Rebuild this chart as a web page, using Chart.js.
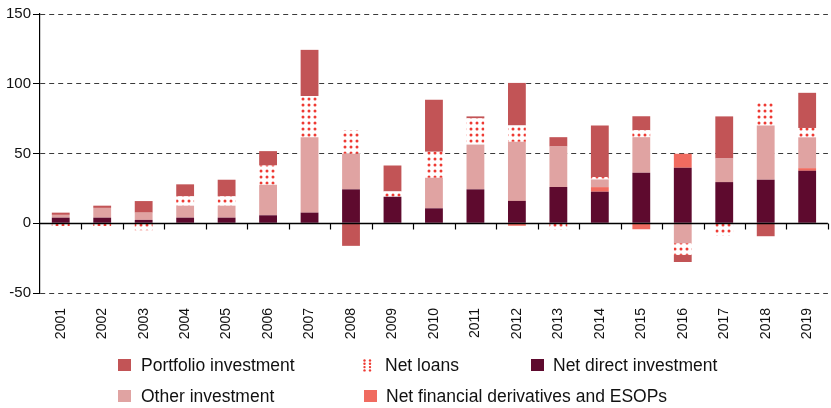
<!DOCTYPE html>
<html>
<head>
<meta charset="utf-8">
<script src="https://cdn.jsdelivr.net/npm/chart.js@4/dist/chart.umd.min.js"></script>
<style>
  html, body { margin: 0; padding: 0; background: #fff; }
  #wrap { position: relative; width: 831px; height: 408px; }
</style>
</head>
<body>
<div id="wrap"><canvas id="chart" width="831" height="408"></canvas></div>
<script>
const years = ['2001','2002','2003','2004','2005','2006','2007','2008','2009','2010',
               '2011','2012','2013','2014','2015','2016','2017','2018','2019'];
const directInv   = [4, 4, 2.4, 4, 4, 5.7, 7.6, 24.3, 19, 10.7, 24.3, 16, 26, 22.6, 36.2, 39.8, 29.5, 31.2, 37.6];
const derivatives = [0, 0, 0, 0, 0, 0, 0, 0, 0, 0, 0, -1.8, 0, 3.3, -4.3, 10, 0, 0, 1.9];
const otherInv    = [2, 7, 5.2, 8.6, 8.6, 21.9, 54.1, 25.5, 0, 21.9, 32.1, 42.4, 29, 5.5, 25.5, -14.3, 16.9, 38.8, 22.1];
const netLoans    = [-2, -2, -5, 6.7, 6.7, 13.8, 29.5, 16.9, 3.8, 18.6, 18.8, 11.7, -4.5, 1.7, 5, -8.3, -8.8, 16.7, 6.7];
const portfolio   = [1.6, 1.6, 8.3, 8.6, 11.9, 10.3, 33.1, -16.2, 18.6, 37.4, 1.4, 30.5, 6.7, 36.9, 10, -5.2, 30.2, -9.3, 25.2];
const yTicks = [-50, 0, 50, 100, 150];

const FONT = '"Liberation Sans", Arial, sans-serif';
const DOT_RED = '#ee3a33';

// white background with red dots for net loans
function makeDotPattern() {
    const c = document.createElement('canvas');
    c.width = 6; c.height = 6;
    const g = c.getContext('2d');
    g.fillStyle = '#fff';
    g.fillRect(0, 0, 6, 6);
    g.fillStyle = DOT_RED;
    g.beginPath();
    g.arc(3, 3, 1.5, 0, Math.PI * 2);
    g.fill();
    return g.createPattern(c, 'repeat');
}
const dots = makeDotPattern();

const datasets = [
    { label: 'Net direct investment', data: directInv, backgroundColor: '#5e0a2e' },
    { label: 'Net financial derivatives and ESOPs', data: derivatives, backgroundColor: '#f06b60' },
    { label: 'Other investment', data: otherInv, backgroundColor: '#e0a3a2' },
    { label: 'Net loans', data: netLoans, backgroundColor: dots, isDots: true },
    { label: 'Portfolio investment', data: portfolio, backgroundColor: '#c25456' }
];

// zero line with category tick marks
const zeroAxis = {
    id: 'zeroAxis',
    afterDatasetsDraw(chart) {
        const ctx = chart.ctx;
        const xs = chart.scales.x, ys = chart.scales.y;
        const y0 = Math.round(ys.getPixelForValue(0)) + 0.5;
        ctx.save();
        ctx.strokeStyle = '#000';
        ctx.lineWidth = 1.5;
        ctx.beginPath();
        ctx.moveTo(chart.chartArea.left, y0);
        ctx.lineTo(chart.chartArea.right, y0);
        ctx.stroke();
        ctx.lineWidth = 1.2;
        const n = years.length;
        const step = xs.getPixelForValue(1) - xs.getPixelForValue(0);
        for (let i = 0; i < n; i++) {
            const x = Math.round(xs.getPixelForValue(i) + step / 2) + 0.5;
            ctx.beginPath();
            ctx.moveTo(x, y0);
            ctx.lineTo(x, y0 + 6);
            ctx.stroke();
        }
        ctx.restore();
    }
};

// two-row legend under the axis labels
const rowLegend = {
    id: 'rowLegend',
    afterDraw(chart) {
        const ctx = chart.ctx;
        const byLabel = {};
        chart.data.datasets.forEach(d => byLabel[d.label] = d);
        const items = [
            { label: 'Portfolio investment', box: 118, text: 141, y: 359 },
            { label: 'Net loans', box: 363, text: 385, y: 359 },
            { label: 'Net direct investment', box: 531, text: 553, y: 359 },
            { label: 'Other investment', box: 118, text: 141, y: 390 },
            { label: 'Net financial derivatives and ESOPs', box: 364, text: 386, y: 390 }
        ];
        ctx.save();
        ctx.font = '17.5px ' + FONT;
        ctx.textBaseline = 'alphabetic';
        items.forEach(it => {
            const ds = byLabel[it.label];
            if (ds.isDots) {
                ctx.fillStyle = DOT_RED;
                for (let r = 0; r < 4; r++) {
                    for (let c = 0; c < 2; c++) {
                        ctx.beginPath();
                        ctx.arc(it.box + 1.5 + c * 5.5, it.y + 1.5 + r * 3.3, 1.2, 0, Math.PI * 2);
                        ctx.fill();
                    }
                }
            } else {
                ctx.fillStyle = ds.backgroundColor;
                ctx.fillRect(it.box, it.y, 13, 12);
            }
            ctx.fillStyle = '#111';
            ctx.fillText(it.label, it.text, it.y + 12);
        });
        ctx.restore();
    }
};

new Chart(document.getElementById('chart').getContext('2d'), {
    type: 'bar',
    data: { labels: years, datasets: datasets },
    options: {
        responsive: false,
        animation: false,
        layout: { padding: { top: 14, right: 1, left: 0, bottom: 0 } },
        datasets: { bar: { barPercentage: 0.43, categoryPercentage: 1, borderWidth: 0 } },
        plugins: { legend: { display: false }, tooltip: { enabled: false } },
        scales: {
            x: {
                stacked: true,
                afterFit: s => { s.height = 408 - 293; },
                grid: { display: false },
                border: { display: false },
                ticks: {
                    minRotation: 90, maxRotation: 90, autoSkip: false, padding: 7,
                    color: '#111', font: { family: FONT, size: 14 }
                }
            },
            y: {
                stacked: true,
                min: -50, max: 150,
                afterFit: s => { s.width = 40; },
                afterBuildTicks: s => { s.ticks = yTicks.map(v => ({ value: v })); },
                grid: {
                    color: c => c.tick && c.tick.value === 0 ? 'rgba(0,0,0,0)' : '#3a3a3a',
                    lineWidth: 1,
                    tickColor: '#000',
                    tickLength: 7,
                    tickBorderDash: []
                },
                border: { display: true, color: '#000', width: 1.2, dash: [5, 4] },
                ticks: {
                    padding: 2, color: '#111',
                    font: { family: FONT, size: 15 }
                }
            }
        }
    },
    plugins: [zeroAxis, rowLegend]
});
</script>
</body>
</html>
